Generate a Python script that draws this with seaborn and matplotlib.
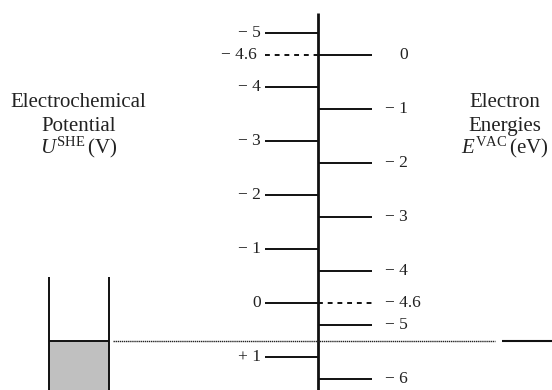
import seaborn as sns
import matplotlib.pyplot as plt

# electrochemical scale (V vs SHE) on the left, vacuum energies (eV) on the right
she_ticks = [-5, -4, -3, -2, -1, 0, 1]
vac_ticks = [0, -1, -2, -3, -4, -5, -6]
she_vac_offset = -4.6          # E_vac = -4.6 - U_she
fermi_level = 0.7              # U_she of the dotted line
beaker_top = -0.49

sns.set_style("white")
plt.rcParams["font.family"] = ["Liberation Serif", "DejaVu Serif"]
plt.rcParams["mathtext.fontset"] = "custom"
plt.rcParams["mathtext.rm"] = "Liberation Serif"
plt.rcParams["mathtext.it"] = "Liberation Serif:italic"

fig = plt.figure(figsize=(5.52, 3.9), dpi=100)
ax = fig.add_axes([0, 0, 1, 1])
ax.set_xlim(0, 552)
ax.set_ylim(1.606, -5.617)
ax.axis("off")

ink = "#111111"
txt = "#222222"
axis_x, left_x, right_x = 318, 265, 372


def fmt(v):
    if v > 0:
        return "+ " + f"{v:g}"
    if v < 0:
        return "\u2212 " + f"{abs(v):g}"
    return "0"


# central axis
ax.vlines(axis_x, -5.376, 1.606, color=ink, lw=2.0)

# left ticks (U_she)
ax.hlines(she_ticks, left_x, axis_x, color=ink, lw=1.4)
for v in she_ticks:
    ax.text(261, v, fmt(v), ha="right", va="center", fontsize=12.5, color=txt)
ax.hlines(she_vac_offset, left_x, axis_x, color=ink, lw=1.4, linestyles=(0, (2.5, 2.5)))
ax.text(257, she_vac_offset, fmt(she_vac_offset), ha="right", va="center", fontsize=12.5, color=txt)

# right ticks (E_vac), placed at U = -4.6 - E
vac_pos = [she_vac_offset - e for e in vac_ticks]
ax.hlines(vac_pos, axis_x, right_x, color=ink, lw=1.4)
for e, p in zip(vac_ticks, vac_pos):
    if e == 0:
        ax.text(408, p, "0", ha="right", va="center", fontsize=12.5, color=txt)
    else:
        ax.text(385, p, fmt(e), ha="left", va="center", fontsize=12.5, color=txt)
ax.hlines(0, axis_x, right_x, color=ink, lw=1.4, linestyles=(0, (2.5, 2.5)))
ax.text(385, 0, fmt(she_vac_offset), ha="left", va="center", fontsize=12.5, color=txt)

# fermi level
ax.hlines(fermi_level, 113, 495, color="#222222", lw=1.0, linestyles=(0, (1, 0.5)))
ax.hlines(fermi_level, 502, 552, color=ink, lw=1.5)

# beaker with electrolyte
ax.fill_between([49, 108.7], fermi_level, 1.606, color="#c0c0c0", lw=0)
ax.vlines([49, 108.7], beaker_top, 1.606, color=ink, lw=1.4)
ax.hlines(fermi_level, 49, 108.7, color=ink, lw=1.4)

# axis titles
for x, lines in [(78.5, ["Electrochemical", "Potential", r"$U^{\mathrm{SHE}}\,$(V)"]),
                 (505, ["Electron", "Energies", r"$E^{\mathrm{VAC}}\,$(eV)"])]:
    for i, s in enumerate(lines):
        ax.text(x, -3.63 + i * 0.43, s, ha="center", va="baseline", fontsize=15, color=txt)

fig.savefig("out.png", dpi=100)
